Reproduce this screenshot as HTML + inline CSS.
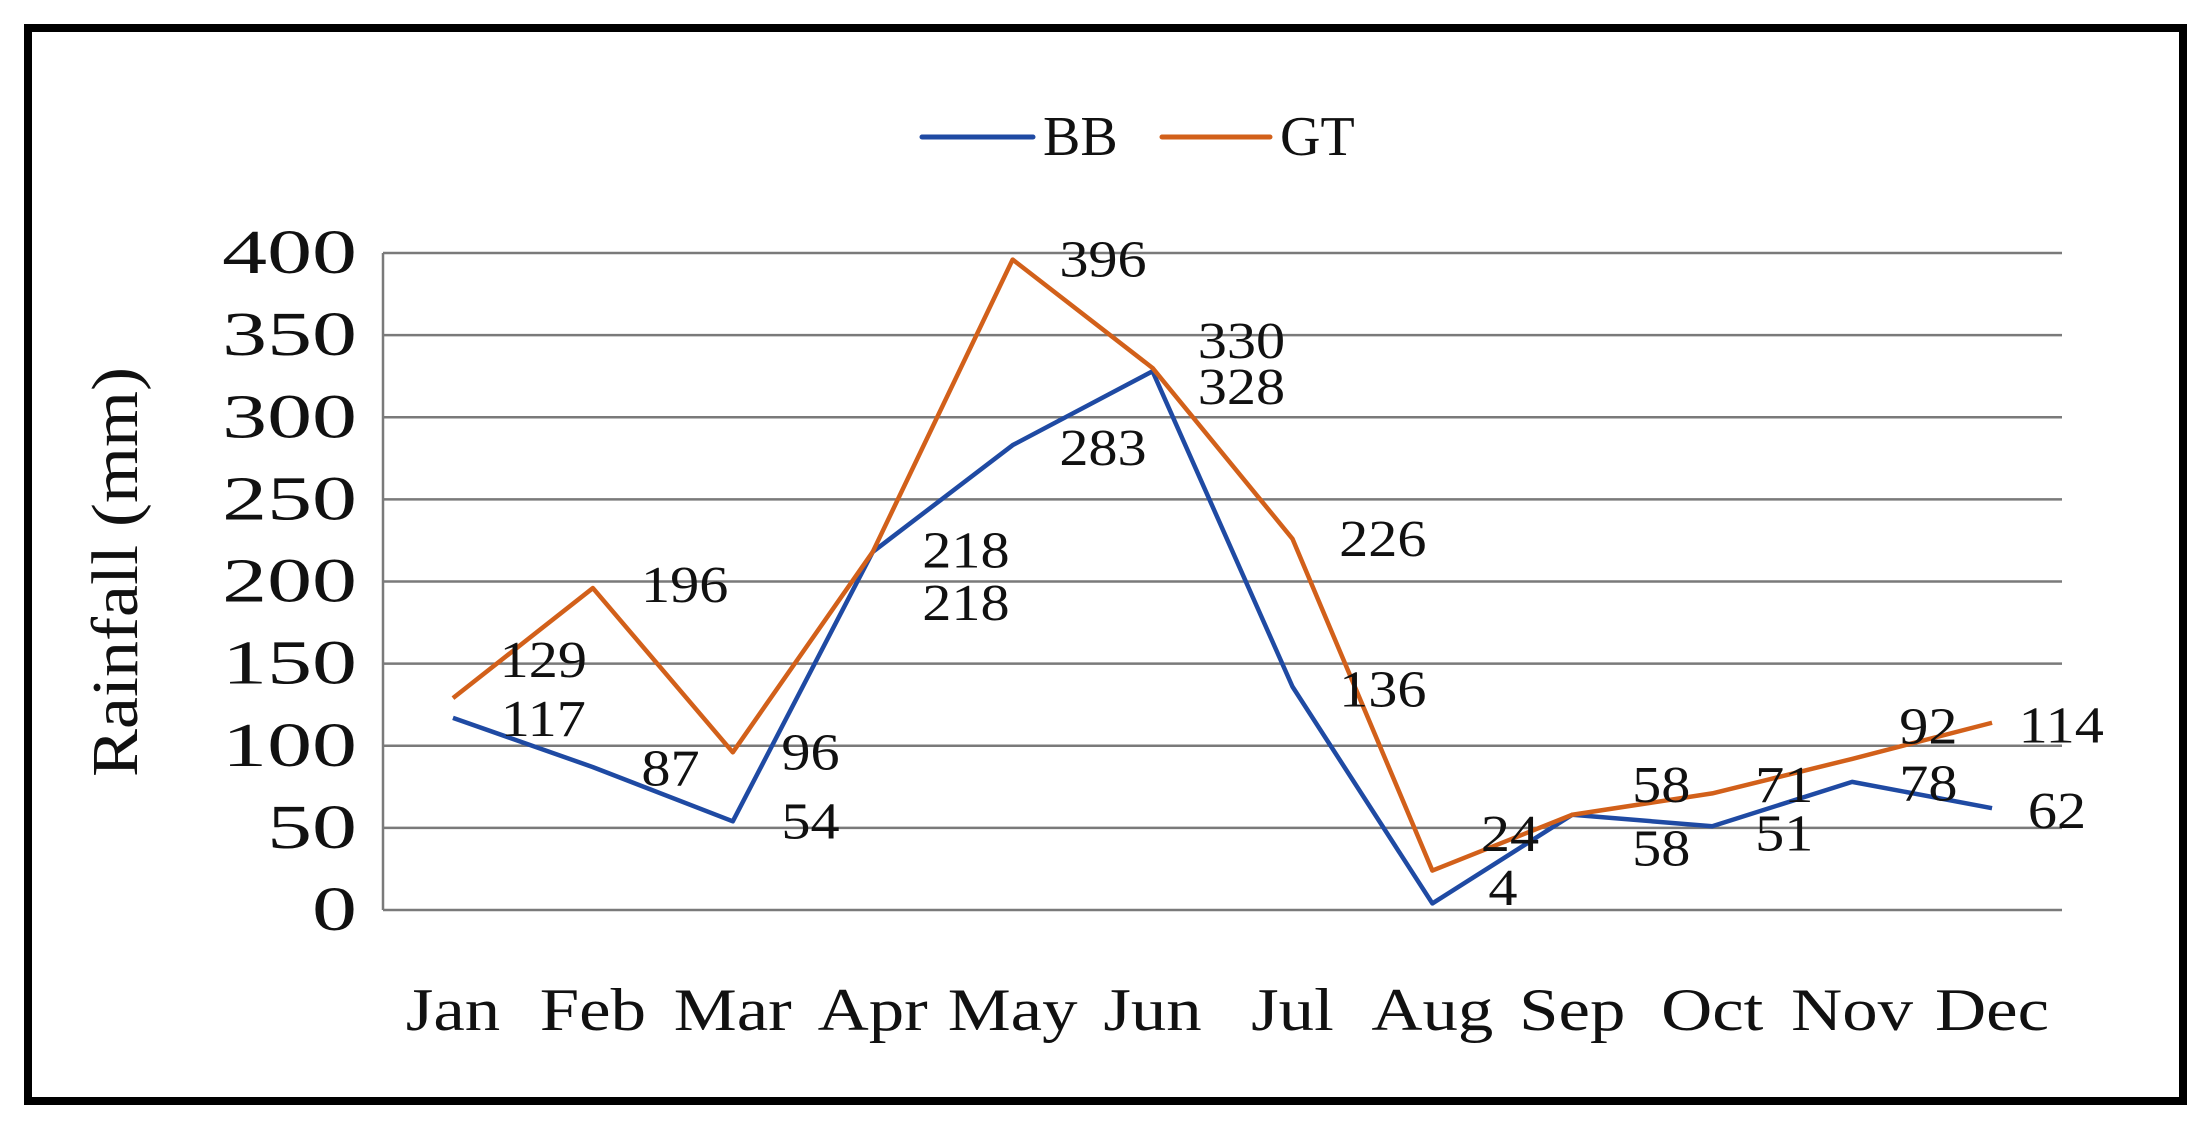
<!DOCTYPE html>
<html><head><meta charset="utf-8"><style>
html,body{margin:0;padding:0;background:#fff;}
svg{display:block;}
text{font-family:"Liberation Serif",serif;fill:#111;}
</style></head><body>
<svg id="chart" width="2203" height="1122" viewBox="0 0 2203 1122">
<rect x="28" y="28" width="2155" height="1073" fill="#fff" stroke="#000" stroke-width="8"/>
<g id="grid"></g>
<g id="yticks"></g>
<g id="xticks"></g>
<g id="series"></g>
<g id="labels"></g>
<text x="137" y="572" font-size="66" text-anchor="middle" transform="rotate(-90 137 572)" textLength="410" lengthAdjust="spacingAndGlyphs">Rainfall (mm)</text>
<g>
<g>
<line x1="922" y1="137" x2="1033" y2="137" stroke="#1f4aa3" stroke-width="5" stroke-linecap="round"/>
<text x="1043" y="155" font-size="56">BB</text></g>
<g>
<line x1="1162" y1="137" x2="1270" y2="137" stroke="#d2601a" stroke-width="5" stroke-linecap="round"/>
<text x="1280" y="155" font-size="56">GT</text></g>
</g>
</svg>
<script>
const months = ["Jan","Feb","Mar","Apr","May","Jun","Jul","Aug","Sep","Oct","Nov","Dec"];
const bbValues = [117,87,54,218,283,328,136,4,58,51,78,62];
const gtValues = [129,196,96,218,396,330,226,24,58,71,92,114];
const yTicks = [0,50,100,150,200,250,300,350,400];
const S = 1.412;
const gtOff = [[64,-27],[65,-2],[55,0],[66,-1],[64,0],[63,-19],[64,0],[55,-26],[63,-21],[51,-6],[54,-23],[49,2]];
const bbOff = [[64,1],[55,1],[55,0],[66,36],[64,2],[63,11],[64,2],[50,-11],[63,24],[51,5],[54,1],[46,2]];
const X0 = 383, X1 = 2062, Y0 = 910, Y1 = 253;
const ns = "http://www.w3.org/2000/svg";
function xs(i){return X0 + (i+0.5)*(X1-X0)/months.length;}
function ys(v){return Y0 - v/400*(Y0-Y1);}
function mk(tag, attrs, parent){const e=document.createElementNS(ns,tag);for(const k in attrs)e.setAttribute(k,attrs[k]);parent.appendChild(e);return e;}
function widen(t,f){const l=t.getComputedTextLength();t.setAttribute('textLength',l*f);t.setAttribute('lengthAdjust','spacingAndGlyphs');}
const grid=document.getElementById('grid'), yt=document.getElementById('yticks'), xt=document.getElementById('xticks'), ser=document.getElementById('series'), lab=document.getElementById('labels');
yTicks.forEach(t=>{
  const l=mk('line',{x1:X0,x2:X1,y1:ys(t),y2:ys(t),stroke:'#7a7a7a','stroke-width':2.5},grid);
  
  
  const tx=mk('text',{x:357,y:ys(t)+20,'font-size':62,'text-anchor':'end'},yt);
  tx.textContent=t;
  
  
  widen(tx,1.45);
});
const ax=mk('line',{x1:X0,x2:X0,y1:Y1,y2:Y0,stroke:'#7a7a7a','stroke-width':2.5},grid);


months.forEach((m,i)=>{
  const tx=mk('text',{x:xs(i),y:1030,'font-size':60,'text-anchor':'middle'},xt);
  tx.textContent=m;
  
  
  widen(tx,1.18);
});
function drawSeries(vals, color, name, off){
  const p=mk('polyline',{points:vals.map((v,i)=>xs(i)+','+ys(v)).join(' '),fill:'none',stroke:color,'stroke-width':4.5,'stroke-linejoin':'round'},ser);
  
  
  vals.forEach((v,i)=>{
    const t=mk('text',{x:xs(i)+off[i][0]*S,y:ys(v)+off[i][1]*S+17,'font-size':52,'text-anchor':'middle'},lab);
    t.textContent=v;
    
    
    widen(t,1.12);
  });
}
drawSeries(bbValues,'#1f4aa3','bb',bbOff);
drawSeries(gtValues,'#d2601a','gt',gtOff);
</script>
</body></html>
